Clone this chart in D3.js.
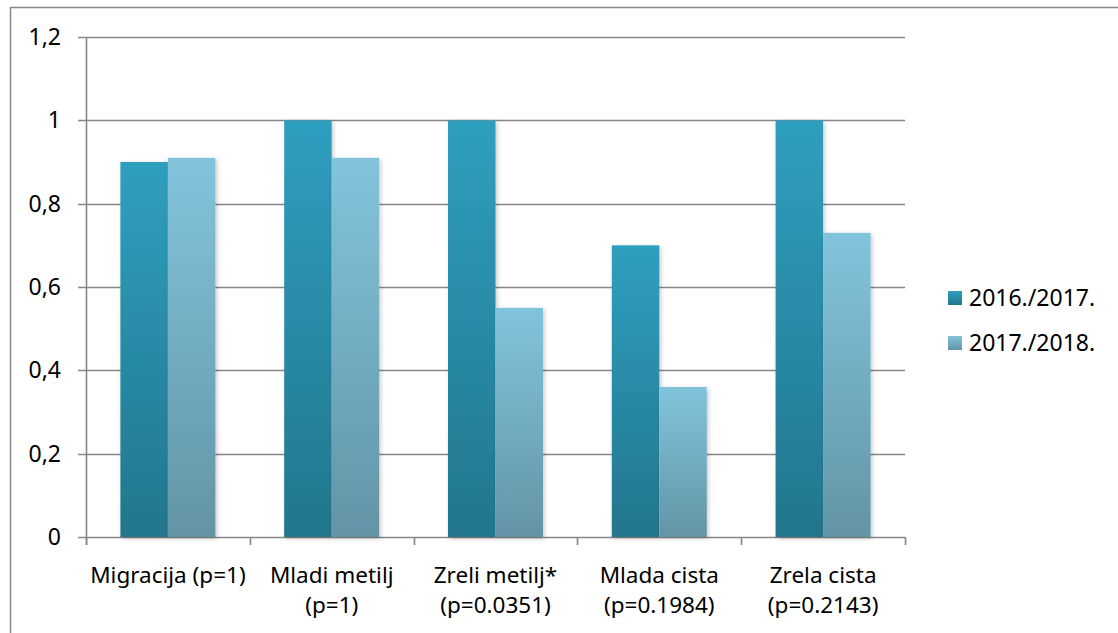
<!DOCTYPE html>
<meta charset="utf-8" />
<style>
  body { margin: 0; background: #fff; }
  text { font-family: "Noto Sans", "Liberation Sans", sans-serif; fill: #000; }
</style>
<body>
<div id="chart"></div>
<script src="https://d3js.org/d3.v7.min.js"></script>
<script>
  // data
  var categories = [
    ["Migracija (p=1)"],
    ["Mladi metilj", "(p=1)"],
    ["Zreli metilj*", "(p=0.0351)"],
    ["Mlada cista", "(p=0.1984)"],
    ["Zrela cista", "(p=0.2143)"]
  ];
  var seriesNames = ["2016./2017.", "2017./2018."];
  var values2016 = [0.9, 1, 1, 0.7, 1];
  var values2017 = [0.91, 0.91, 0.55, 0.36, 0.73];
  var yTicks = [0, 0.2, 0.4, 0.6, 0.8, 1, 1.2];

  var W = 1118, H = 633;
  var plot = { left: 86, right: 905, top: 37, bottom: 537 };

  var svg = d3.select("#chart").append("svg")
    .attr("width", W).attr("height", H);

  // gradients per series
  var defs = svg.append("defs");
  var grads = [
    { id: "g0", top: "#2f9fbf", bottom: "#22768c" },
    { id: "g1", top: "#82c4dc", bottom: "#6394a6" }
  ];
  grads.forEach(function (g) {
    var lg = defs.append("linearGradient").attr("id", g.id)
      .attr("x1", 0).attr("y1", 0).attr("x2", 0).attr("y2", 1);
    lg.append("stop").attr("offset", "0%").attr("stop-color", g.top);
    lg.append("stop").attr("offset", "100%").attr("stop-color", g.bottom);
  });
  var f = defs.append("filter").attr("id", "shadow")
    .attr("x", "-20%").attr("y", "-5%").attr("width", "140%").attr("height", "110%");
  f.append("feDropShadow").attr("dx", 1.5).attr("dy", 1.5)
    .attr("stdDeviation", 2).attr("flood-color", "#000").attr("flood-opacity", 0.22);

  // outer border
  svg.append("rect")
    .attr("x", 10.5).attr("y", 7.5).attr("width", W + 10).attr("height", H + 10)
    .attr("fill", "none").attr("stroke", "#878787").attr("stroke-width", 1.5);

  var y = d3.scaleLinear().domain([0, 1.2]).range([plot.bottom, plot.top]);
  var x0 = d3.scaleBand().domain(d3.range(categories.length))
    .range([plot.left, plot.right]).padding(0);
  var bw = x0.bandwidth();
  var x1 = d3.scaleBand().domain([0, 1]).range([bw * 0.21, bw * 0.79]).padding(0);

  // gridlines
  svg.append("g").selectAll("line").data(yTicks).join("line")
    .attr("x1", plot.left - 8).attr("x2", plot.right)
    .attr("y1", function (d) { return Math.round(y(d)) + 0.5; })
    .attr("y2", function (d) { return Math.round(y(d)) + 0.5; })
    .attr("stroke", "#878787").attr("stroke-width", 1.6);

  // y axis line
  svg.append("line")
    .attr("x1", plot.left + 0.5).attr("x2", plot.left + 0.5)
    .attr("y1", plot.top).attr("y2", plot.bottom + 8)
    .attr("stroke", "#878787").attr("stroke-width", 1.6);

  // y labels
  var fmt = function (d) { return String(d).replace(".", ","); };
  svg.append("g").selectAll("text").data(yTicks).join("text")
    .attr("x", 61).attr("y", function (d) { return y(d); })
    .attr("dy", "0.35em").attr("text-anchor", "end")
    .style("font-size", "23px")
    .text(fmt);

  // x ticks at band edges
  var edges = d3.range(categories.length + 1).map(function (i) {
    return i < categories.length ? x0(i) : plot.right;
  });
  svg.append("g").selectAll("line").data(edges).join("line")
    .attr("x1", function (d) { return Math.round(d) + 0.5; })
    .attr("x2", function (d) { return Math.round(d) + 0.5; })
    .attr("y1", plot.bottom).attr("y2", plot.bottom + 8)
    .attr("stroke", "#878787").attr("stroke-width", 1.6);

  // bars
  var series = [values2016, values2017];
  series.forEach(function (vals, s) {
    svg.append("g").selectAll("rect").data(vals).join("rect")
      .attr("x", function (d, i) { return x0(i) + x1(s); })
      .attr("y", function (d) { return y(d); })
      .attr("width", x1.bandwidth())
      .attr("height", function (d) { return y(0) - y(d); })
      .attr("fill", "url(#" + grads[s].id + ")")
      .attr("filter", "url(#shadow)");
  });

  // x labels, one text per line
  var xg = svg.append("g").selectAll("g").data(categories).join("g")
    .attr("transform", function (d, i) {
      return "translate(" + (x0(i) + bw / 2) + ",583)";
    });
  xg.selectAll("text").data(function (d) { return d; }).join("text")
    .attr("text-anchor", "middle")
    .attr("y", function (d, i) { return i * 30; })
    .style("font-size", "22.5px")
    .text(function (d) { return d; });

  // legend
  var leg = svg.append("g").selectAll("g").data(seriesNames).join("g")
    .attr("transform", function (d, i) {
      return "translate(948," + (298 + i * 45) + ")";
    });
  leg.append("rect")
    .attr("x", 0).attr("y", -7).attr("width", 14).attr("height", 14)
    .attr("fill", function (d, i) { return "url(#" + grads[i].id + ")"; });
  leg.append("text")
    .attr("x", 21).attr("y", 0).attr("dy", "0.35em")
    .style("font-size", "23px")
    .text(function (d) { return d; });
</script>
</body>
